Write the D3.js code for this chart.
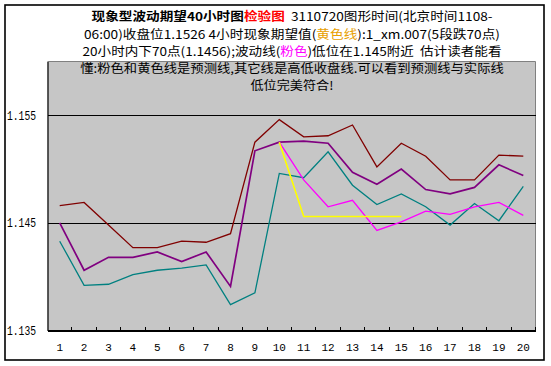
<!DOCTYPE html>
<html><head><meta charset="utf-8">
<script src="https://cdn.jsdelivr.net/npm/d3@7/dist/d3.min.js"></script>
<style>
html,body{margin:0;padding:0;background:#fff;}
svg{display:block;}
</style></head>
<body>
<svg id="chart" width="551" height="366"></svg>
<script>
const categories = ["1","2","3","4","5","6","7","8","9","10","11","12","13","14","15","16","17","18","19","20"];
const highSeries  = [1.1466,1.1469,1.1448,1.1427,1.1427,1.1433,1.1432,1.1440,1.1525,1.1546,1.1530,1.1531,1.1541,1.1502,1.1524,1.1512,1.1490,1.1490,1.1513,1.1512];
const closeSeries = [1.1450,1.1406,1.1418,1.1418,1.1423,1.1414,1.1423,1.1391,1.1517,1.1525,1.1526,1.1524,1.1497,1.1486,1.1500,1.1481,1.1477,1.1483,1.1504,1.1494];
const lowSeries   = [1.1433,1.1392,1.1393,1.1402,1.1406,1.1408,1.1411,1.1374,1.1385,1.1496,1.1492,1.1516,1.1485,1.1467,1.1477,1.1465,1.1448,1.1468,1.1452,1.1484];
const waveForecast = [null,null,null,null,null,null,null,null,null,1.1525,1.1490,1.1465,1.1471,1.1443,1.1451,1.1461,1.1458,1.1465,1.1469,1.1457];
const phenomForecast = [null,null,null,null,null,null,null,null,null,1.1525,1.1456,1.1456,1.1456,1.1456,1.1456,null,null,null,null,null];
const yTicks = [1.135,1.145,1.155];
const yDomain = [1.135,1.16];

const svg = d3.select("#chart");
const L = 47.5, R = 535.5, T = 61.5, B = 330.5;

// outer frame
svg.append("rect").attr("x",5).attr("y",5).attr("width",539).attr("height",355)
  .attr("fill","#fff").attr("stroke","#000").attr("stroke-width",1.6);

const x = d3.scaleBand().domain(categories).range([L,R]).padding(0);
const y = d3.scaleLinear().domain(yDomain).range([B,T]);
const cx = c => x(c) + x.bandwidth()/2;

// plot bg
svg.append("rect").attr("x",L).attr("y",T).attr("width",R-L).attr("height",B-T).attr("fill","#c6c6c6");
svg.append("path").attr("d",`M${L},${T}H${R}V${B}`).attr("fill","none").attr("stroke","#808080").attr("stroke-width",1);

// y axis with gridlines
const yAxis = d3.axisLeft(y).tickValues(yTicks).tickFormat(d3.format(".3f"))
  .tickSizeInner(-(R-L)).tickSizeOuter(0).tickPadding(10);
const gy = svg.append("g").attr("transform",`translate(${L},0)`).call(yAxis);
gy.select(".domain").attr("stroke","#000").attr("stroke-width",1.2);
gy.selectAll(".tick line").attr("stroke","#000").attr("stroke-width",1.2).attr("shape-rendering","crispEdges");
gy.selectAll(".tick text").attr("font-family","'Liberation Mono', monospace").attr("font-size","12px").attr("fill","#000")
  .attr("text-anchor","start").attr("x", 7 - L).attr("textLength", 29).attr("lengthAdjust","spacingAndGlyphs");

// x axis
const xAxis = d3.axisBottom(x).tickSize(0).tickPadding(13);
const gx = svg.append("g").attr("transform",`translate(0,${B})`).call(xAxis);
gx.select(".domain").attr("stroke","#000").attr("stroke-width",1.2);
gx.selectAll(".tick text").attr("font-family","'Liberation Mono', monospace").attr("font-size","11px").attr("fill","#000");
// boundary ticks
svg.append("g").selectAll("line").data(categories.slice(1).concat(["end"])).join("line")
  .attr("x1",d => d==="end" ? R : x(d)).attr("x2",d => d==="end" ? R : x(d))
  .attr("y1",B).attr("y2",B-3.5).attr("stroke","#000").attr("stroke-width",1).attr("shape-rendering","crispEdges");

// lines
const line = d3.line().defined(d => d.v !== null).x(d => cx(d.c)).y(d => y(d.v));
const series = [
  {vals: highSeries, color:"#800000", w:1.3},
  {vals: closeSeries, color:"#800080", w:1.7},
  {vals: lowSeries, color:"#008080", w:1.3},
  {vals: waveForecast, color:"#ff00ff", w:1.3},
  {vals: phenomForecast, color:"#ffff00", w:1.6}
];
series.forEach(s => {
  svg.append("path").datum(s.vals.map((v,i)=>({c:categories[i], v})))
    .attr("d", line).attr("fill","none").attr("stroke", s.color).attr("stroke-width", s.w);
});

// title
const lines = [
  [["现象型波动期望40小时图","#000",true],["检验图","#ff0000",true],["  3110720图形时间(北京时间1108-","#000",false]],
  [["06:00)收盘位1.1526 4小时现象期望值(","#000",false],["黄色线","#e8a000",false],["):1_xm.007(5段跌70点)","#000",false]],
  [["20小时内下70点(1.1456);波动线(","#000",false],["粉色","#ff00ff",false],[")低位在1.145附近  估计读者能看","#000",false]],
  [["懂:粉色和黄色线是预测线,其它线是高低收盘线.可以看到预测线与实际线","#000",false]],
  [["低位完美符合!","#000",false]]
];
const ys = [20.5, 38.5, 56, 73, 90];
const widths = [401, 416, 419, 423.5, 83];
lines.forEach((parts,i) => {
  const t = svg.append("text").attr("font-family","'Noto Sans CJK SC', sans-serif").attr("font-size","12px")
    .attr("text-anchor","middle").attr("x",292).attr("y",ys[i]).attr("xml:space","preserve")
    .attr("textLength", widths[i]).attr("lengthAdjust","spacingAndGlyphs");
  parts.forEach(p => t.append("tspan").text(p[0]).attr("fill",p[1]).attr("font-weight",p[2]?"bold":"normal"));
});
</script>
</body></html>
